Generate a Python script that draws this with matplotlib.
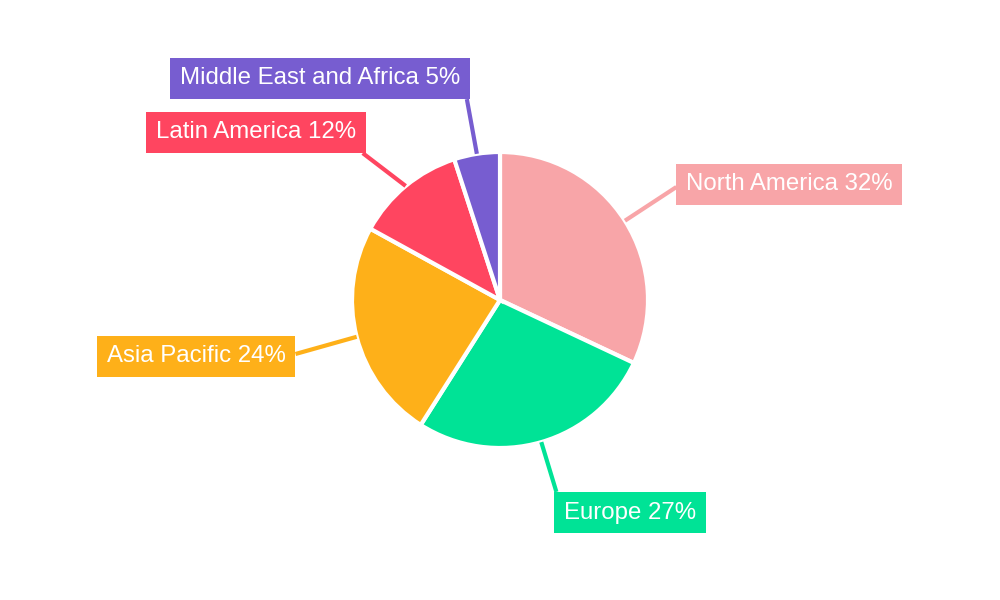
import numpy as np
import matplotlib
matplotlib.use("Agg")
import matplotlib.pyplot as plt

categories = ["North America", "Europe", "Asia Pacific", "Latin America", "Middle East and Africa"]
values = [32, 27, 24, 12, 5]
colors = ["#F8A5A8", "#00E396", "#FEB019", "#FF4560", "#775DD0"]
# label box positions (pixel coords: left edge, vertical center)
label_pos = [(677, 182), (555, 510), (98, 354), (147, 130), (171, 76)]
anchor = ["left", "top", "right", "corner", "corner"]

fig = plt.figure(figsize=(10, 6), dpi=100)
ax = fig.add_axes([0, 0, 1, 1])

cx, cy, r = 500, 300, 148
wedges, _ = ax.pie(values, colors=colors, startangle=90, counterclock=False,
                   center=(cx, cy), radius=r,
                   wedgeprops=dict(edgecolor="white", linewidth=3))
ax.set_xlim(0, 1000)
ax.set_ylim(0, 600)
ax.set_aspect("equal")
ax.axis("off")

for w, cat, val, col, (lx, ly), an in zip(wedges, categories, values, colors, label_pos, anchor):
    ang = np.deg2rad((w.theta1 + w.theta2) / 2)
    sx, sy = cx + r * np.cos(ang), cy + r * np.sin(ang)
    ty = 600 - ly
    t = ax.text(lx + 9, ty, f"{cat} {val}%", color="white", fontsize=17.3,
                family="Liberation Sans", va="center_baseline", ha="left",
                bbox=dict(boxstyle="square,pad=0.4", fc=col, ec="none"), zorder=5)
    fig.canvas.draw()
    bb = t.get_bbox_patch().get_window_extent().transformed(ax.transData.inverted())
    if an == "left":
        ex, ey = bb.x0, ty - 5
    elif an == "right":
        ex, ey = bb.x1, ty
    elif an == "top":
        ex, ey = bb.x0 + 2, bb.y1
    else:
        ex, ey = bb.x1 - 3, bb.y0
    ax.plot([sx, ex], [sy, ey], color=col, lw=3, zorder=1, solid_capstyle="butt")

fig.savefig("out.png", dpi=100)
